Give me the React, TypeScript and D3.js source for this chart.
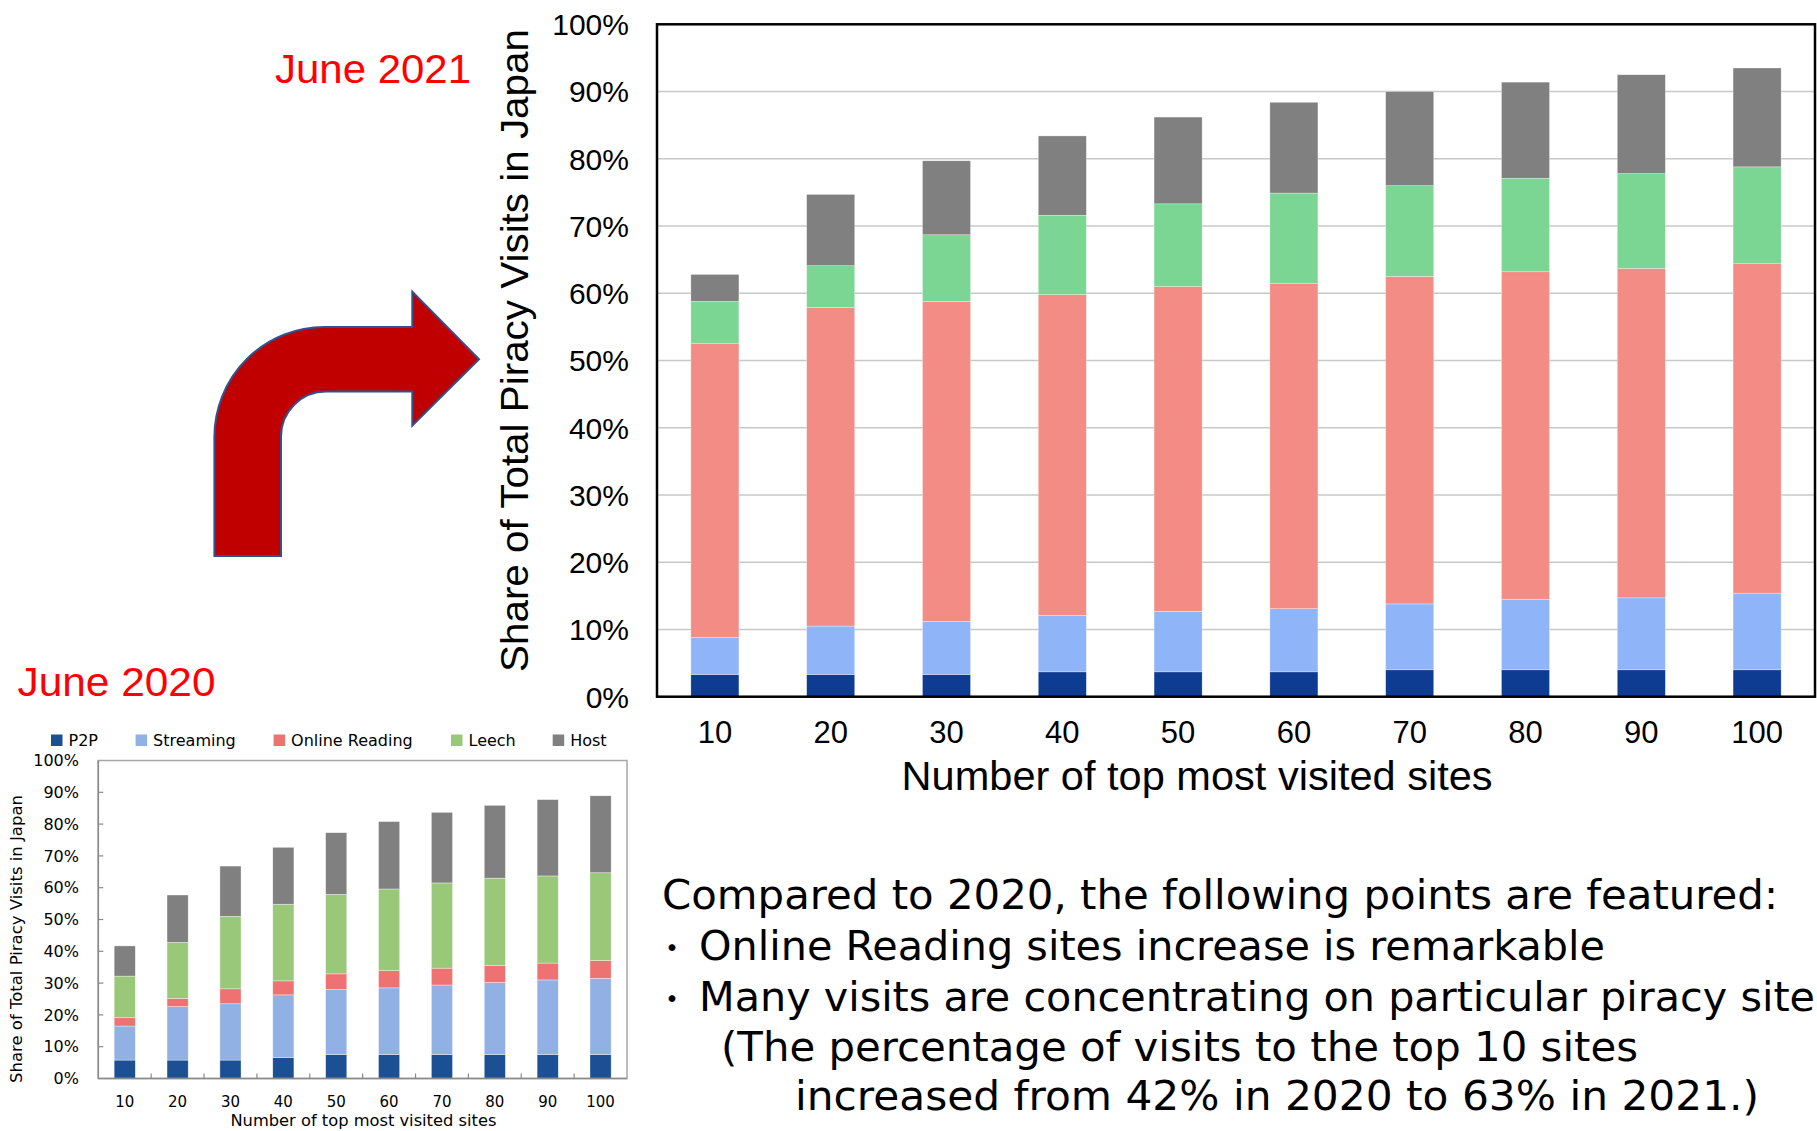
import * as d3 from 'd3';

const categories = ['10', '20', '30', '40', '50', '60', '70', '80', '90', '100'];
const seriesNames = ['P2P', 'Streaming', 'Online Reading', 'Leech', 'Host'];

// June 2021 (big chart), share in % per category
const p2p2021 = [3.3, 3.3, 3.3, 3.7, 3.7, 3.7, 4.0, 4.0, 4.0, 4.0];
const streaming2021 = [5.5, 7.2, 7.9, 8.4, 9.0, 9.4, 9.8, 10.5, 10.7, 11.4];
const reading2021 = [43.7, 47.4, 47.6, 47.7, 48.3, 48.4, 48.7, 48.7, 49.0, 49.0];
const leech2021 = [6.3, 6.2, 9.9, 11.8, 12.3, 13.4, 13.5, 13.9, 14.1, 14.4];
const host2021 = [4.0, 10.6, 11.0, 11.8, 12.9, 13.5, 14.0, 14.3, 14.7, 14.7];

// June 2020 (small chart)
const p2p2020 = [5.8, 5.8, 5.8, 6.6, 7.5, 7.5, 7.5, 7.5, 7.5, 7.5];
const streaming2020 = [10.7, 16.8, 17.7, 19.7, 20.5, 21.0, 21.9, 22.7, 23.5, 24.0];
const reading2020 = [2.6, 2.6, 4.7, 4.4, 4.9, 5.4, 5.3, 5.4, 5.3, 5.6];
const leech2020 = [13.1, 17.6, 22.8, 24.1, 25.0, 25.7, 26.8, 27.4, 27.4, 27.6];
const host2020 = [9.5, 14.9, 15.8, 17.9, 19.4, 21.2, 22.2, 22.9, 24.0, 24.2];

const yTicks = [0, 10, 20, 30, 40, 50, 60, 70, 80, 90, 100];

const colors2021 = ['#0e3c92', '#8fb4f7', '#f28c85', '#7bd693', '#808080'];
const colors2020 = ['#1b5094', '#91b0e3', '#ee7272', '#9ac879', '#808080'];

type Row = { cat: string; [k: string]: number | string };

const makeRows = (series: number[][]): Row[] =>
  categories.map((cat, i) => {
    const r: Row = { cat };
    seriesNames.forEach((s, j) => (r[s] = series[j][i]));
    return r;
  });

const rows2021 = makeRows([p2p2021, streaming2021, reading2021, leech2021, host2021]);
const rows2020 = makeRows([p2p2020, streaming2020, reading2020, leech2020, host2020]);

const stack = d3.stack<Row>().keys(seriesNames).value((d, k) => d[k] as number);

const body = ['Compared to 2020, the following points are featured:'];
const bullets = ['Online Reading sites increase is remarkable', 'Many visits are concentrating on particular piracy site'];
const notes = ['(The percentage of visits to the top 10 sites', 'increased from 42% in 2020 to 63% in 2021.)'];

const BIG = { left: 657, right: 1815, top: 24.3, bottom: 696.7 };
const SMALL = { left: 98.3, right: 627, top: 760.5, bottom: 1078.5 };

function Bars({ rows, colors, x, y, edge }: any) {
  const layers = stack(rows);
  return (
    <g>
      {layers.map((layer, li) => (
        <g key={layer.key} fill={colors[li]}>
          {layer.map((d: any) => (
            <rect
              key={d.data.cat}
              x={x(d.data.cat)}
              y={y(d[1])}
              width={x.bandwidth()}
              height={y(d[0]) - y(d[1])}
              stroke={edge}
              strokeWidth={0.6}
            />
          ))}
        </g>
      ))}
    </g>
  );
}

export default function App() {
  const xBig = d3.scaleBand<string>().domain(categories).range([BIG.left, BIG.right]).paddingInner(0.585).paddingOuter(0.2925);
  const yBig = d3.scaleLinear().domain([0, 100]).range([BIG.bottom, BIG.top]);
  const xSmall = d3.scaleBand<string>().domain(categories).range([SMALL.left, SMALL.right]).paddingInner(0.6).paddingOuter(0.3);
  const ySmall = d3.scaleLinear().domain([0, 100]).range([SMALL.bottom, SMALL.top]);

  const sansBig = '"Liberation Sans", Arial, sans-serif';
  const sansSmall = '"DejaVu Sans", Verdana, sans-serif';
  const legendX = [51, 135.6, 273.6, 451, 552.7];
  const smallStep = xSmall.step();

  return (
    <svg width={1817} height={1131} style={{ position: 'absolute', left: 0, top: 0, background: '#fff' }}>
      {/* labels */}
      <text x={275} y={83} fill="#ff0000" fontFamily={sansBig} fontSize={40} textLength={196} lengthAdjust="spacingAndGlyphs">June 2021</text>
      <text x={17.5} y={696} fill="#ff0000" fontFamily={sansBig} fontSize={40} textLength={198} lengthAdjust="spacingAndGlyphs">June 2020</text>

      {/* arrow */}
      <path
        d="M214.4,556 L214.4,437 A110,110 0 0 1 324.4,327 L412.3,327 L412.3,291.6 L479,359.2 L412.3,425.6 L412.3,391.5 L326,391.5 A45,45 0 0 0 281,436.5 L281,556 Z"
        fill="#c00000"
        stroke="#2f528f"
        strokeWidth={2}
      />

      {/* big chart */}
      {yTicks.slice(1, -1).map((t) => (
        <line key={t} x1={BIG.left} x2={BIG.right} y1={yBig(t)} y2={yBig(t)} stroke="#c8c8c8" strokeWidth={1.6} />
      ))}
      <Bars rows={rows2021} colors={colors2021} x={xBig} y={yBig} edge="rgba(255,255,255,0.5)" />
      <rect x={BIG.left} y={BIG.top} width={BIG.right - BIG.left} height={BIG.bottom - BIG.top} fill="none" stroke="#000" strokeWidth={2.5} />
      {yTicks.map((t) => (
        <text key={t} x={629} y={yBig(t)} dy="0.36em" textAnchor="end" fontFamily={sansBig} fontSize={30} fill="#000">
          {t}%
        </text>
      ))}
      {categories.map((c) => (
        <text key={c} x={(xBig(c) as number) + xBig.bandwidth() / 2} y={742.5} textAnchor="middle" fontFamily={sansBig} fontSize={31} fill="#000">
          {c}
        </text>
      ))}
      <text x={901.6} y={790} fontFamily={sansBig} fontSize={40} fill="#000" textLength={591} lengthAdjust="spacingAndGlyphs">
        Number of top most visited sites
      </text>
      <text
        transform="translate(528,672) rotate(-90)"
        fontFamily={sansBig}
        fontSize={39}
        fill="#000"
        textLength={643}
        lengthAdjust="spacingAndGlyphs"
      >
        Share of Total Piracy Visits in Japan
      </text>

      {/* small chart */}
      {seriesNames.map((s, i) => (
        <g key={s}>
          <rect x={legendX[i]} y={734.5} width={11.5} height={11.5} fill={colors2020[i]} />
          <text x={legendX[i] + 17.5} y={745.5} fontFamily={sansSmall} fontSize={16} fill="#000">
            {s}
          </text>
        </g>
      ))}
      <Bars rows={rows2020} colors={colors2020} x={xSmall} y={ySmall} edge="rgba(255,255,255,0.6)" />
      <rect x={SMALL.left} y={SMALL.top} width={SMALL.right - SMALL.left} height={SMALL.bottom - SMALL.top} fill="none" stroke="#a6a6a6" strokeWidth={1.5} />
      <line x1={SMALL.left} x2={SMALL.left} y1={SMALL.top} y2={SMALL.bottom} stroke="#898989" strokeWidth={1.5} />
      <line x1={SMALL.left} x2={SMALL.right} y1={SMALL.bottom} y2={SMALL.bottom} stroke="#898989" strokeWidth={1.5} />
      {yTicks.slice(1, -1).map((t) => (
        <line key={t} x1={SMALL.left} x2={SMALL.left + 5} y1={ySmall(t)} y2={ySmall(t)} stroke="#898989" strokeWidth={1.2} />
      ))}
      {categories.slice(1).map((c) => (
        <line key={c} x1={(xSmall(c) as number) - (smallStep - xSmall.bandwidth()) / 2} x2={(xSmall(c) as number) - (smallStep - xSmall.bandwidth()) / 2} y1={SMALL.bottom} y2={SMALL.bottom - 5} stroke="#898989" strokeWidth={1.2} />
      ))}
      {yTicks.map((t) => (
        <text key={t} x={79} y={ySmall(t)} dy="0.36em" textAnchor="end" fontFamily={sansSmall} fontSize={16} fill="#000">
          {t}%
        </text>
      ))}
      {categories.map((c) => (
        <text key={c} x={(xSmall(c) as number) + xSmall.bandwidth() / 2} y={1107} textAnchor="middle" fontFamily={sansSmall} fontSize={15} fill="#000">
          {c}
        </text>
      ))}
      <text x={363.4} y={1126} textAnchor="middle" fontFamily={sansSmall} fontSize={16} fill="#000" textLength={266} lengthAdjust="spacingAndGlyphs">
        Number of top most visited sites
      </text>
      <text transform="translate(22,1083) rotate(-90)" fontFamily={sansSmall} fontSize={16} fill="#000" textLength={288} lengthAdjust="spacingAndGlyphs">
        Share of Total Piracy Visits in Japan
      </text>

      {/* comment block */}
      <text x={662} y={909} fontFamily={sansSmall} fontSize={40} fill="#000" textLength={1116} lengthAdjust="spacingAndGlyphs">
        {body[0]}
      </text>
      {bullets.map((b, i) => (
        <g key={b}>
          <text x={672} y={960 + i * 50.5} textAnchor="middle" fontFamily='"Noto Sans CJK JP", sans-serif' fontSize={32} fill="#000">・</text>
          <text x={699} y={960 + i * 50.5} fontFamily={sansSmall} fontSize={40} fill="#000" textLength={i === 0 ? 906 : 1116} lengthAdjust="spacingAndGlyphs">
            {b}
          </text>
        </g>
      ))}
      <text x={721} y={1061} fontFamily={sansSmall} fontSize={40} fill="#000" textLength={917} lengthAdjust="spacingAndGlyphs">
        {notes[0]}
      </text>
      <text x={795} y={1110} fontFamily={sansSmall} fontSize={40} fill="#000" textLength={964} lengthAdjust="spacingAndGlyphs">
        {notes[1]}
      </text>
    </svg>
  );
}
